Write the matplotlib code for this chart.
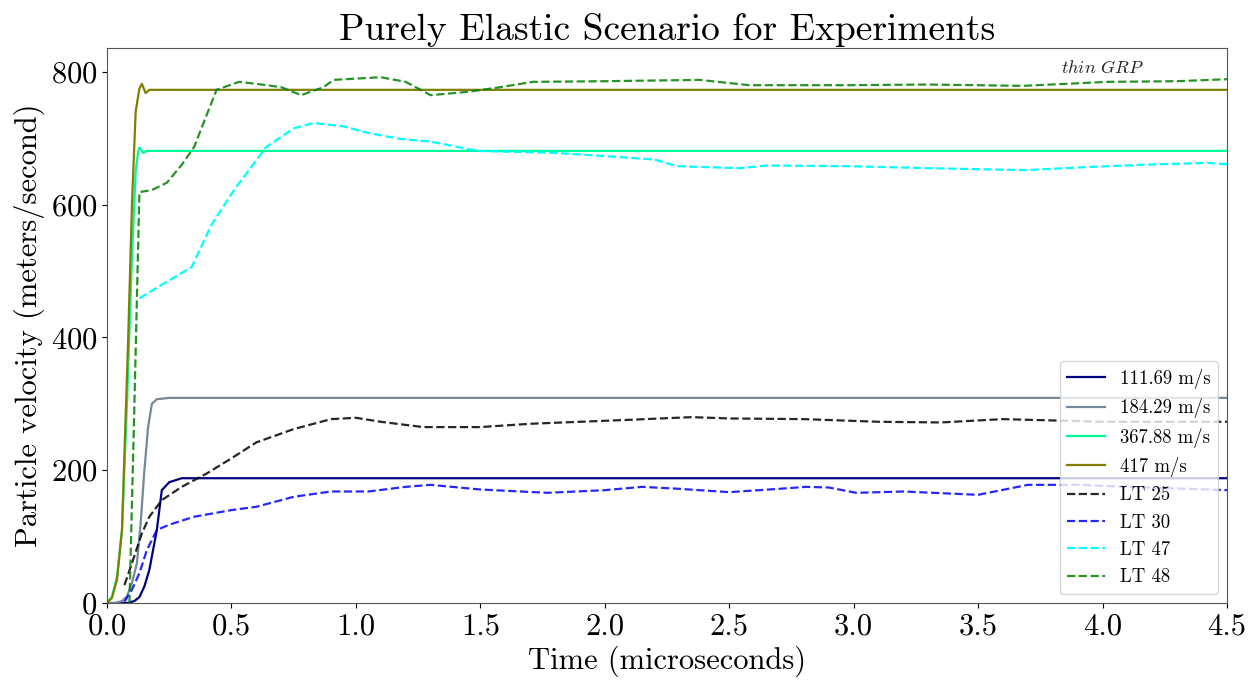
import numpy as np
import matplotlib
matplotlib.use("Agg")
import matplotlib.pyplot as plt

plt.rcParams['font.family'] = 'serif'
plt.rcParams['font.serif'] = ['cmr10', 'DejaVu Serif']
plt.rcParams['mathtext.fontset'] = 'cm'
plt.rcParams['axes.formatter.use_mathtext'] = True

# Simulated (purely elastic) impact responses
t_111 = [0.0, 0.08, 0.11, 0.13, 0.15, 0.17, 0.20, 0.22, 0.25, 0.30, 4.5]
v_111 = [0, 0, 3, 9, 25, 50, 110, 170, 182, 188, 188]

t_184 = [0.0, 0.03, 0.06, 0.08, 0.10, 0.12, 0.135, 0.15, 0.165, 0.18, 0.20, 0.25, 4.5]
v_184 = [0, 0, 3, 10, 30, 60, 120, 200, 265, 300, 307, 309, 309]

t_367 = [0.0, 0.02, 0.04, 0.06, 0.08, 0.10, 0.115, 0.125, 0.13, 0.145, 0.16, 0.2, 4.5]
v_367 = [0, 10, 40, 110, 300, 520, 650, 680, 686, 678, 681, 681, 681]

t_417 = [0.0, 0.02, 0.04, 0.06, 0.085, 0.10, 0.115, 0.13, 0.14, 0.155, 0.17, 0.2, 4.5]
v_417 = [0, 8, 35, 110, 400, 600, 740, 775, 782, 768, 773, 773, 773]

# Experimental records (laser tracking)
t_lt25 = [0.07, 0.10, 0.14, 0.17, 0.22, 0.30, 0.40, 0.50, 0.60, 0.75, 0.90, 1.00, 1.10, 1.27,
          1.50, 1.70, 1.90, 2.10, 2.35, 2.50, 2.80, 3.10, 3.35, 3.60, 3.80, 4.00, 4.50]
v_lt25 = [27, 60, 105, 130, 155, 175, 195, 218, 242, 262, 277, 279, 273, 265,
          265, 270, 273, 276, 280, 278, 277, 273, 272, 277, 275, 273, 273]

t_lt30 = [0.07, 0.10, 0.13, 0.16, 0.20, 0.25, 0.35, 0.50, 0.60, 0.75, 0.90, 1.05, 1.20, 1.30,
          1.50, 1.77, 2.00, 2.15, 2.30, 2.50, 2.70, 2.81, 2.90, 3.01, 3.20, 3.50, 3.70,
          3.90, 4.10, 4.50]
v_lt30 = [2, 20, 45, 80, 110, 118, 130, 140, 145, 160, 168, 168, 175, 178,
          171, 166, 170, 175, 172, 167, 172, 175, 174, 166, 168, 163, 178,
          178, 175, 170]

t_lt47 = [0.13, 0.20, 0.34, 0.42, 0.51, 0.64, 0.75, 0.83, 0.95, 1.05, 1.18, 1.30, 1.49,
          1.80, 2.05, 2.20, 2.29, 2.54, 2.65, 2.98, 3.30, 3.69, 3.90, 4.15, 4.42, 4.50]
v_lt47 = [459, 475, 506, 570, 622, 687, 715, 723, 718, 708, 699, 695, 681,
          678, 672, 668, 658, 655, 659, 658, 655, 652, 656, 660, 663, 661]

t_lt48 = [0.09, 0.11, 0.13, 0.18, 0.24, 0.30, 0.35, 0.44, 0.53, 0.60, 0.70, 0.78, 0.87, 0.91,
          1.10, 1.20, 1.30, 1.45, 1.58, 1.71, 2.00, 2.38, 2.58, 2.98, 3.30, 3.68, 4.02,
          4.30, 4.50]
v_lt48 = [0, 300, 619, 622, 633, 660, 687, 773, 785, 782, 777, 765, 777, 788,
          792, 785, 765, 770, 777, 785, 786, 788, 780, 780, 781, 779, 785,
          786, 789]

fig, ax = plt.subplots(figsize=(12.55, 6.81), dpi=100)
fig.subplots_adjust(left=0.0853, right=0.9777, top=0.9295, bottom=0.1145)

ax.plot(t_111, v_111, color='navy', lw=1.6, label='111.69 m/s')
ax.plot(t_184, v_184, color='lightslategray', lw=1.6, label='184.29 m/s')
ax.plot(t_367, v_367, color='mediumspringgreen', lw=1.6, label='367.88 m/s')
ax.plot(t_417, v_417, color='olive', lw=1.6, label='417 m/s')
ax.plot(t_lt25, v_lt25, '--', color='black', lw=1.6, alpha=0.85, label='LT 25')
ax.plot(t_lt30, v_lt30, '--', color='blue', lw=1.6, alpha=0.85, label='LT 30')
ax.plot(t_lt47, v_lt47, '--', color='cyan', lw=1.6, label='LT 47')
ax.plot(t_lt48, v_lt48, '--', color='green', lw=1.6, alpha=0.85, label='LT 48')

ax.text(4.0, 806, r'$\it{thin\ GRP}$', fontsize=13, ha='center', va='center', color='#222222')

ax.set_xlim(0, 4.5)
ax.set_ylim(0, 836)
ax.set_xticks(np.arange(0, 4.51, 0.5))
ax.set_xticklabels([f'{x:.1f}' for x in np.arange(0, 4.51, 0.5)])
ax.set_yticks([0, 200, 400, 600, 800])
ax.tick_params(labelsize=22)
ax.set_xlabel('Time (microseconds)', fontsize=22)
ax.set_ylabel('Particle velocity (meters/second)', fontsize=22)
ax.set_title('Purely Elastic Scenario for Experiments', fontsize=27)
for s in ax.spines.values():
    s.set_color('#555555')

ax.legend(loc='lower right', fontsize=13.5)

fig.savefig('out.png', dpi=100)
